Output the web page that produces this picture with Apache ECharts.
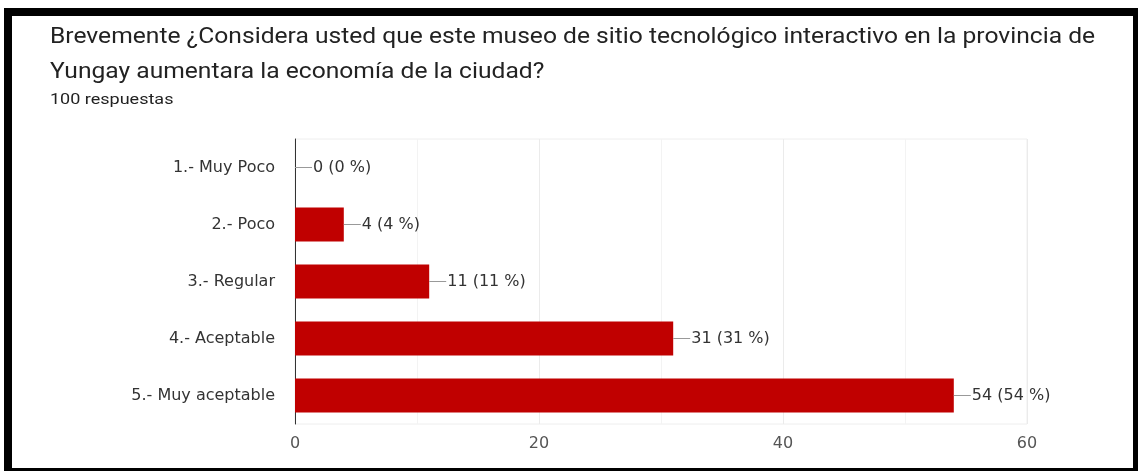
<!DOCTYPE html>
<html>
<head>
<meta charset="utf-8">
<script src="https://cdn.jsdelivr.net/npm/echarts@6/dist/echarts.min.js"></script>
<style>
  html, body { margin: 0; padding: 0; background: #fff; }
  #chart { width: 1142px; height: 471px; }
</style>
</head>
<body>
<div id="chart"></div>
<script>
// Survey answers (100 respuestas)
const categories = ['1.- Muy Poco', '2.- Poco', '3.- Regular', '4.- Aceptable', '5.- Muy aceptable'];
const counts = [0, 4, 11, 31, 54];
const totalResponses = 100;
const xTicks = { min: 0, max: 60, interval: 20 };

const chart = echarts.init(document.getElementById('chart'), null, { renderer: 'canvas' });

const labelFont = 'DejaVu Sans';

chart.setOption({
  animation: false,
  backgroundColor: '#ffffff',
  graphic: [
    // frame around the card
    { type: 'rect', shape: { x: 4, y: 8, width: 1134, height: 8 }, style: { fill: '#000' }, z: 100 },
    { type: 'rect', shape: { x: 4, y: 8, width: 8, height: 463 }, style: { fill: '#000' }, z: 100 },
    { type: 'rect', shape: { x: 1133, y: 8, width: 5, height: 463 }, style: { fill: '#000' }, z: 100 },
    { type: 'rect', shape: { x: 4, y: 468, width: 1134, height: 3 }, style: { fill: '#000' }, z: 100 },
    {
      type: 'text', x: 50, y: 20, scaleX: 1.145,
      style: {
        text: 'Brevemente ¿Considera usted que este museo de sitio tecnológico interactivo en la provincia de\nYungay aumentara la economía de la ciudad?',
        fill: '#222', font: '21.5px Roboto', lineHeight: 35
      }
    },
    {
      type: 'text', x: 50, y: 93, scaleX: 1.2,
      style: { text: totalResponses + ' respuestas', fill: '#222', font: '15px Roboto' }
    }
  ],
  grid: {
    left: 295, right: 115, top: 139, bottom: 47,
    show: true, borderColor: '#eeeeee', borderWidth: 1
  },
  xAxis: {
    type: 'value',
    min: xTicks.min, max: xTicks.max, interval: xTicks.interval,
    axisLine: { show: false },
    axisTick: { show: false },
    axisLabel: { color: '#555', fontFamily: labelFont, fontSize: 16, margin: 12 },
    splitLine: { show: true, lineStyle: { color: '#ebebeb', width: 1 } },
    minorTick: { show: false, splitNumber: 2 },
    minorSplitLine: { show: true, lineStyle: { color: '#f3f3f3', width: 1 } }
  },
  yAxis: {
    type: 'category',
    data: categories,
    inverse: true,
    axisLine: { show: true, lineStyle: { color: '#333', width: 1 } },
    axisTick: { show: false },
    axisLabel: { color: '#333', fontFamily: labelFont, fontSize: 16, margin: 20 },
    splitLine: { show: false }
  },
  series: [{
    type: 'bar',
    data: counts,
    barWidth: 34,
    itemStyle: { color: '#c00000' },
    label: {
      show: true,
      position: 'right',
      distance: 0,
      formatter: p => '{l|}{t|' + p.value + ' (' + Math.round(p.value / totalResponses * 100) + ' %)}',
      rich: {
        l: { width: 17, height: 1, backgroundColor: '#999' },
        t: { color: '#333', fontFamily: labelFont, fontSize: 16, padding: [0, 0, 0, 1] }
      }
    }
  }]
});
</script>
</body>
</html>
